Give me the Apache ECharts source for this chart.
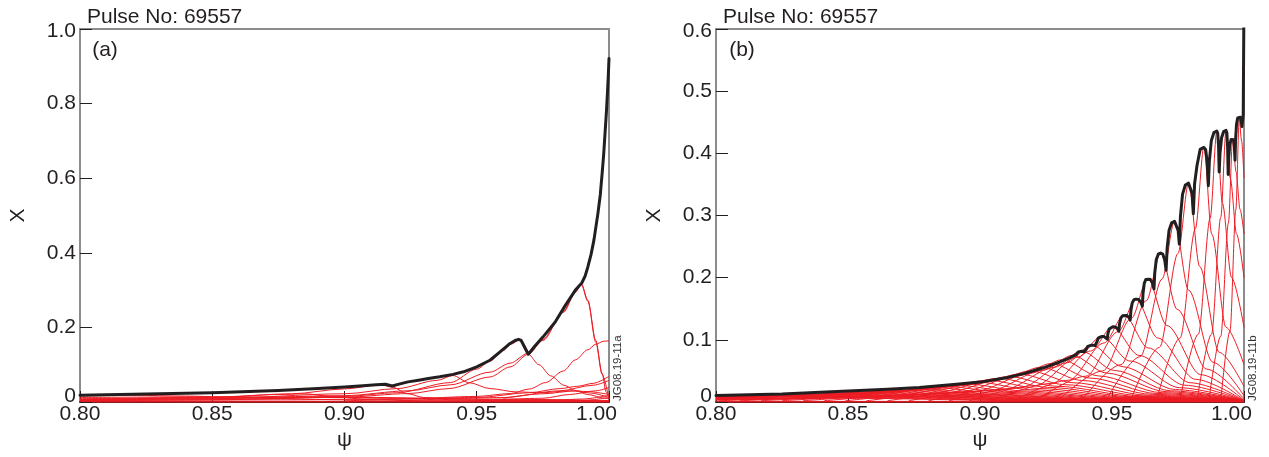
<!DOCTYPE html>
<html><head><meta charset="utf-8">
<script src="https://cdn.jsdelivr.net/npm/echarts@6/dist/echarts.min.js"></script>
<style>html,body{margin:0;padding:0;background:#fff}#c{width:1269px;height:457px}</style>
</head><body><div id="c"></div>
<script>
const FONT = '"Liberation Sans", Arial, Helvetica, sans-serif';
const pulseLabel = 'Pulse No: 69557';
const panelTags = ['(a)', '(b)'];
const figCodes = ['JG08.19-11a', 'JG08.19-11b'];
const xName = 'ψ', yName = 'X';
const xTicks = [0.80, 0.85, 0.90, 0.95, 1.00];
const yTicksA = [0, 0.2, 0.4, 0.6, 0.8, 1.0];
const yTicksB = [0, 0.1, 0.2, 0.3, 0.4, 0.5, 0.6];

// ---------- panel (a) ----------
const blackA = [[0.800,0.018],[0.825,0.0215],[0.850,0.025],[0.875,0.031],[0.890,0.036],[0.900,0.040],[0.907,0.0435],[0.912,0.0465],[0.9155,0.0475],[0.918,0.043],[0.921,0.0485],[0.924,0.054],[0.928,0.0585],[0.9317,0.063],[0.936,0.0675],[0.941,0.074],[0.945,0.081],[0.950,0.094],[0.955,0.112],[0.9596,0.139],[0.9626,0.157],[0.9645,0.165],[0.9658,0.168],[0.9668,0.165],[0.9695,0.128],[0.972,0.150],[0.975,0.174],[0.9796,0.214],[0.9835,0.259],[0.9873,0.300],[0.9897,0.319],[0.9910,0.338],[0.992,0.362],[0.9932,0.395],[0.9943,0.434],[0.9958,0.505],[0.9967,0.555],[0.9974,0.612],[0.998,0.665],[0.9985,0.720],[0.999,0.775],[0.9994,0.827],[0.9997,0.87],[1.0,0.921]];
const redA1 = [[0.80,0.005],[0.85,0.006],[0.90,0.013],[0.924,0.0225],[0.9395,0.036],[0.955,0.067],[0.9626,0.094],[0.9695,0.128],[0.975,0.165],[0.9827,0.24],[0.9875,0.295],[0.9895,0.318],[0.992,0.273],[0.995,0.165],[0.9974,0.077],[0.9989,0.027],[1.0,0.009]];
const redA2 = [[0.80,0.007],[0.85,0.009],[0.90,0.017],[0.924,0.03],[0.94,0.046],[0.955,0.08],[0.9626,0.104],[0.9695,0.131],[0.975,0.168],[0.9827,0.243],[0.9875,0.298],[0.9895,0.316],[0.992,0.27],[0.995,0.16],[0.9974,0.074],[1.0,0.008]];
const redA3 = [[0.80,0.003],[0.85,0.006],[0.90,0.015],[0.92,0.025],[0.94,0.052],[0.95,0.088],[0.955,0.11],[0.96,0.138],[0.963,0.155],[0.966,0.166],[0.9695,0.128],[0.9735,0.10],[0.978,0.07],[0.983,0.045],[0.9875,0.03],[0.992,0.02],[0.9985,0.01],[1.0,0.008]];
const redA4 = [[0.80,0.004],[0.878,0.006],[0.924,0.009],[0.95,0.015],[0.9626,0.0225],[0.97,0.035],[0.976,0.052],[0.9827,0.083],[0.9873,0.113],[0.992,0.14],[0.995,0.155],[0.998,0.163],[1.0,0.164]];
const redA5 = [[0.80,0.004],[0.85,0.009],[0.90,0.022],[0.92,0.036],[0.935,0.058],[0.941,0.071],[0.947,0.052],[0.955,0.036],[0.965,0.027],[0.975,0.025],[0.985,0.03],[0.992,0.028],[1.0,0.02]];
const redA6 = [[0.80,0.005],[0.85,0.012],[0.88,0.022],[0.90,0.035],[0.9135,0.046],[0.918,0.04],[0.924,0.022],[0.93,0.012],[0.94,0.006],[0.96,0.003],[1.0,0.001]];
const redA7 = [[0.80,0.006],[0.85,0.013],[0.875,0.02],[0.885,0.022],[0.895,0.015],[0.91,0.006],[0.93,0.003],[1.0,0.001]];
const redA8 = [[0.90,0.003],[0.95,0.012],[0.97,0.025],[0.9815,0.036],[0.988,0.042],[0.994,0.05],[1.0,0.069]];
const redA9 = [[0.92,0.003],[0.96,0.012],[0.9815,0.03],[0.994,0.045],[1.0,0.058]];
const redA10 = [[0.95,0.003],[0.975,0.01],[0.985,0.02],[0.995,0.03],[1.0,0.039]];
const redA11 = [[0.96,0.002],[0.98,0.005],[0.99,0.008],[1.0,0.018]];
const redA12 = [[0.97,0.001],[0.99,0.004],[1.0,0.012]];
const redA13 = [[0.80,0.012],[0.85,0.014],[0.90,0.013],[0.95,0.008],[1.0,0.004]];
const redA14 = [[0.80,0.009],[0.85,0.011],[0.90,0.012],[0.93,0.01],[0.96,0.006],[1.0,0.003]];
const redA15 = [[0.80,0.002],[0.90,0.002],[1.0,0.002]];
const redA16 = [[0.80,0.016],[0.82,0.018],[0.84,0.016],[0.86,0.012],[0.90,0.006],[1.0,0.002]];
const redA17 = [[0.96,0.01],[0.975,0.022],[0.9875,0.03],[0.993,0.024],[1.0,0.012]];
const redCurvesA = [redA1,redA2,redA3,redA4,redA5,redA6,redA7,redA8,redA9,redA10,redA11,redA12,redA13,redA14,redA15,redA16,redA17];

// ---------- panel (b) ----------
const blackB = [[0.800,0.0105],[0.825,0.0128],[0.850,0.0175],[0.865,0.0205],[0.877,0.0235],[0.890,0.028],[0.900,0.032],[0.910,0.039],[0.917,0.046],[0.924,0.055],[0.930,0.064],[0.934,0.071],[0.9365,0.0765],
[0.93674,0.07875],[0.9372,0.0806],[0.9378,0.08135],[0.9385,0.0815],[0.9391,0.08144],[0.93963,0.0811],[0.9400,0.0805],
[0.94028,0.08545],[0.94081,0.0895],[0.9415,0.09117],[0.9423,0.0915],[0.9430,0.09138],[0.94358,0.0907],[0.9440,0.0895],
[0.94426,0.0967],[0.94477,0.10262],[0.94543,0.10502],[0.9462,0.1055],[0.9470,0.10523],[0.9477,0.1037],[0.9482,0.101],
[0.94845,0.110],[0.94894,0.1174],[0.94957,0.1204],[0.9503,0.121],[0.95122,0.12058],[0.95203,0.1182],[0.9526,0.114],
[0.95285,0.12548],[0.95334,0.13491],[0.95397,0.13874],[0.9547,0.1395],[0.95558,0.13905],[0.95635,0.1365],[0.9569,0.132],
[0.95716,0.14708],[0.95767,0.15947],[0.95833,0.1645],[0.9591,0.1655],[0.96006,0.16481],[0.9609,0.1609],[0.9615,0.154],
[0.96174,0.17403],[0.9622,0.19049],[0.9628,0.19717],[0.9635,0.1985],[0.96446,0.19751],[0.9653,0.1919],[0.9659,0.182],
[0.9662,0.20788],[0.96678,0.22915],[0.96753,0.23778],[0.9684,0.2395],[0.96924,0.23785],[0.96998,0.2285],[0.9705,0.212],
[0.97088,0.24733],[0.97162,0.27637],[0.97258,0.28815],[0.9737,0.2905],[0.97442,0.28831],[0.97505,0.2759],[0.9755,0.254],
[0.97592,0.2981],[0.97673,0.33436],[0.97778,0.34906],[0.9790,0.352],[0.97972,0.34906],[0.98035,0.3349],[0.9808,0.303],
[0.98128,0.35093],[0.9822,0.38033],[0.9834,0.40631],[0.9848,0.4095],[0.98548,0.40581],[0.98608,0.3849],[0.9865,0.348],
[0.98688,0.3876],[0.98762,0.42016],[0.98858,0.43336],[0.9897,0.436],[0.99006,0.43204],[0.99038,0.4096],[0.9906,0.370],
[0.99091,0.40015],[0.99151,0.42494],[0.99229,0.43499],[0.9932,0.437],[0.99352,0.43274],[0.9938,0.4086],[0.9940,0.366],
[0.9942,0.3921],[0.9946,0.41356],[0.9951,0.42226],[0.9957,0.424],[0.99606,0.4219],[0.99638,0.41],[0.9966,0.389],
[0.99679,0.4205],[0.99716,0.4464],[0.9976,0.4569],[0.9982,0.459],[0.9986,0.45804],[0.99895,0.4534],[0.9992,0.443],
[0.9997,0.462],[1.0,0.65]];
const redB1 = [[0.9912,0.002],[0.9947,0.114],[0.9969,0.309],[0.9982,0.455],[0.9991,0.42],[1.0,0.36]];
const redB2 = [[0.9867,0.002],[0.9912,0.106],[0.9941,0.288],[0.9957,0.424],[0.997,0.37],[0.9985,0.31],[1.0,0.27]];
const redB3 = [[0.9822,0.002],[0.9877,0.109],[0.9912,0.297],[0.9932,0.437],[0.9948,0.36],[0.9972,0.27],[1.0,0.20]];
const redB4 = [[0.9757,0.002],[0.9827,0.109],[0.9872,0.296],[0.9897,0.436],[0.9918,0.32],[0.9953,0.20],[1.0,0.12]];
const redB5 = [[0.9668,0.002],[0.9758,0.103],[0.9816,0.279],[0.9848,0.41],[0.9878,0.27],[0.9932,0.12],[1.0,0.06]];
const redB6 = [[0.957,0.002],[0.968,0.088],[0.975,0.239],[0.979,0.352],[0.9832,0.218],[0.9906,0.08],[1.0,0.025]];
const redB7 = [[0.9477,0.002],[0.9607,0.073],[0.969,0.198],[0.9737,0.291],[0.979,0.18],[0.9882,0.064],[1.0,0.01]];
const redB8 = [[0.9384,0.002],[0.9534,0.06],[0.963,0.163],[0.9684,0.24],[0.9747,0.149],[0.9858,0.053],[1.0,0.005]];
const redB9 = [[0.9295,0.002],[0.9465,0.05],[0.9574,0.135],[0.9635,0.199],[0.9708,0.123],[0.9836,0.044],[1.0,0.003]];
const redB10 = [[0.9211,0.002],[0.9401,0.0415],[0.9523,0.113],[0.9591,0.166],[0.9673,0.103],[0.9816,0.0365],[1.0,0.002]];
const redB11 = [[0.9126,0.002],[0.9336,0.035],[0.947,0.095],[0.9546,0.14],[0.9637,0.087],[0.9796,0.031],[1.0,0.002]];
const redB12 = [[0.9042,0.002],[0.9272,0.03],[0.9419,0.082],[0.9502,0.121],[0.9602,0.075],[0.9776,0.027],[1.0,0.002]];
const redB13 = [[0.896,0.002],[0.921,0.0265],[0.937,0.072],[0.946,0.106],[0.9568,0.066],[0.9757,0.023],[1.0,0.002]];
const redB14 = [[0.8883,0.002],[0.9153,0.023],[0.9326,0.0626],[0.9423,0.092],[0.9538,0.057],[0.974,0.02],[1.0,0.002]];
const redB15 = [[0.8805,0.002],[0.9095,0.0205],[0.9281,0.0558],[0.9385,0.082],[0.9508,0.0508],[0.9723,0.018],[1.0,0.002]];
const redB16 = [[0.873,0.002],[0.904,0.0188],[0.9238,0.051],[0.935,0.075],[0.948,0.0465],[0.9708,0.0165],[1.0,0.002]];
const redB17 = [[0.865,0.002],[0.898,0.017],[0.9191,0.0462],[0.931,0.068],[0.9448,0.042],[0.969,0.015],[1.0,0.002]];
const redB18 = [[0.857,0.002],[0.892,0.0155],[0.9144,0.042],[0.927,0.062],[0.9416,0.0385],[0.9672,0.0136],[1.0,0.002]];
const redB19 = [[0.849,0.002],[0.886,0.014],[0.9097,0.038],[0.923,0.056],[0.9384,0.0347],[0.9654,0.0123],[1.0,0.002]];
const redB20 = [[0.841,0.002],[0.88,0.0125],[0.905,0.034],[0.919,0.05],[0.9352,0.031],[0.9636,0.011],[1.0,0.002]];
const redB21 = [[0.833,0.002],[0.874,0.0113],[0.9002,0.0306],[0.915,0.045],[0.932,0.0279],[0.9618,0.0099],[1.0,0.002]];
const redB22 = [[0.825,0.002],[0.868,0.0103],[0.8955,0.0279],[0.911,0.041],[0.9288,0.0254],[0.96,0.009],[1.0,0.002]];
const redB23 = [[0.817,0.002],[0.862,0.0095],[0.8908,0.0258],[0.907,0.038],[0.9256,0.0236],[0.9582,0.0084],[1.0,0.002]];
const redB24 = [[0.809,0.002],[0.856,0.0088],[0.8861,0.0238],[0.903,0.035],[0.9224,0.0217],[0.9564,0.0077],[1.0,0.002]];
const redB25 = [[0.801,0.002],[0.85,0.008],[0.8814,0.0218],[0.899,0.032],[0.9192,0.0198],[0.9546,0.007],[1.0,0.002]];
const redB26 = [[0.80,0.003],[0.845,0.0073],[0.877,0.0197],[0.895,0.029],[0.916,0.018],[0.9528,0.0064],[1.0,0.002]];
const redB27 = [[0.80,0.004],[0.841,0.0068],[0.873,0.0184],[0.891,0.027],[0.9128,0.0167],[0.951,0.006],[1.0,0.002]];
const redB28 = [[0.80,0.004],[0.837,0.0063],[0.869,0.017],[0.887,0.025],[0.9096,0.0155],[0.949,0.0055],[1.0,0.002]];
const redB29 = [[0.80,0.0045],[0.833,0.0058],[0.865,0.0156],[0.883,0.023],[0.9064,0.0143],[0.947,0.005],[1.0,0.002]];
const redB30 = [[0.80,0.0045],[0.829,0.0053],[0.861,0.0143],[0.879,0.021],[0.9032,0.013],[0.9455,0.0046],[1.0,0.0015]];
const redB31 = [[0.80,0.005],[0.84,0.009],[0.857,0.0136],[0.875,0.02],[0.90,0.0124],[0.944,0.0044],[1.0,0.0015]];
const redB32 = [[0.80,0.0055],[0.835,0.009],[0.852,0.0129],[0.87,0.019],[0.896,0.0118],[0.941,0.0042],[1.0,0.0015]];
const redB33 = [[0.80,0.006],[0.83,0.0085],[0.847,0.0122],[0.865,0.018],[0.892,0.0112],[0.939,0.004],[1.0,0.0015]];
const redB34 = [[0.80,0.0065],[0.825,0.0085],[0.842,0.0116],[0.86,0.017],[0.888,0.0105],[0.937,0.0037],[1.0,0.0015]];
const redB35 = [[0.80,0.007],[0.82,0.0085],[0.837,0.0109],[0.855,0.016],[0.884,0.0099],[0.935,0.0035],[1.0,0.0015]];
const redB36 = [[0.80,0.0075],[0.832,0.0102],[0.85,0.015],[0.88,0.0093],[0.933,0.0033],[1.0,0.0015]];
const redB37 = [[0.80,0.008],[0.827,0.0095],[0.845,0.014],[0.876,0.0087],[0.93,0.0031],[1.0,0.0012]];
const redB38 = [[0.80,0.0075],[0.822,0.0092],[0.84,0.013],[0.872,0.0081],[0.928,0.0029],[1.0,0.0012]];
const redB39 = [[0.80,0.0085],[0.83,0.012],[0.864,0.0075],[0.924,0.0027],[1.0,0.0012]];
const redB40 = [[0.80,0.0095],[0.82,0.011],[0.856,0.0068],[0.92,0.0024],[1.0,0.001]];
const redB41 = [[0.80,0.0098],[0.81,0.01],[0.848,0.0062],[0.915,0.0022],[1.0,0.001]];
const redB42 = [[0.80,0.001],[0.90,0.001],[1.0,0.001]];
const redCurvesB = [redB1,redB2,redB3,redB4,redB5,redB6,redB7,redB8,redB9,redB10,redB11,redB12,redB13,redB14,redB15,redB16,redB17,redB18,redB19,redB20,redB21,redB22,redB23,redB24,redB25,redB26,redB27,redB28,redB29,redB30,redB31,redB32,redB33,redB34,redB35,redB36,redB37,redB38,redB39,redB40,redB41,redB42];

// ---------- styling ----------
const RED = '#ec1c24', BLACK = '#231f20', FRAME = '#8c8c8c', TXT = '#231f20';
const LABEL_FS = 21;

function xAxisCfg(gi) {
  return {
    gridIndex: gi, type: 'value',
    min: xTicks[0], max: xTicks[xTicks.length - 1], interval: xTicks[1] - xTicks[0],
    name: xName, nameLocation: 'middle', nameGap: 28,
    nameTextStyle: { fontFamily: FONT, fontSize: 21, color: TXT },
    axisLine: { show: true, onZero: false, lineStyle: { color: '#8e1b1f', width: 2 } },
    axisTick: { show: true, inside: true, length: 11, lineStyle: { color: TXT, width: 1 } },
    splitLine: { show: false },
    axisLabel: {
      margin: 2, fontFamily: FONT, fontSize: LABEL_FS, color: TXT,
      formatter: v => v >= xTicks[xTicks.length - 1] - 1e-6 ? '{e|' + v.toFixed(2) + '}' : v.toFixed(2),
      rich: { e: { fontFamily: FONT, fontSize: LABEL_FS, color: TXT, padding: [0, 25, 0, 0] } }
    }
  };
}
function yAxisCfg(gi, ticks) {
  const mx = ticks[ticks.length - 1];
  return {
    gridIndex: gi, type: 'value', min: 0, max: mx, interval: ticks[1] - ticks[0],
    name: yName, nameLocation: 'middle', nameGap: 51, nameRotate: 90,
    nameTextStyle: { fontFamily: FONT, fontSize: 21, color: TXT },
    axisLine: { show: true, onZero: false, lineStyle: { color: FRAME, width: 2 } },
    axisTick: { show: true, inside: true, length: 12, lineStyle: { color: TXT, width: 1 } },
    splitLine: { show: false },
    axisLabel: {
      margin: 4, fontFamily: FONT, fontSize: LABEL_FS, color: TXT,
      formatter: v => {
        if (Math.abs(v) < 1e-9) return '{z|0}';
        if (Math.abs(v - mx) < 1e-9) return '{t|' + v.toFixed(1) + '}';
        return v.toFixed(1);
      },
      rich: {
        z: { fontFamily: FONT, fontSize: LABEL_FS, color: TXT, padding: [0, 0, 12, 0] },
        t: { fontFamily: FONT, fontSize: LABEL_FS, color: TXT, padding: [4, 0, 0, 0] }
      }
    }
  };
}

const series = [];
function addRed(d, gi) {
  series.push({ type: 'line', xAxisIndex: gi, yAxisIndex: gi, data: d, showSymbol: false, smooth: 0.3, smoothMonotone: 'x', lineStyle: { color: RED, width: 1 }, silent: true, z: 2 });
}
function addBlack(d, gi) {
  series.push({ type: 'line', xAxisIndex: gi, yAxisIndex: gi, data: d, showSymbol: false, smooth: false, lineStyle: { color: BLACK, width: 3, cap: 'round', join: 'round' }, silent: true, z: 3 });
}
redCurvesA.forEach(d => addRed(d, 0));
addBlack(blackA, 0);
redCurvesB.forEach(d => addRed(d, 1));
addBlack(blackB, 1);

function txt(x, y, s, fs, align, valign, rot, color) {
  return { type: 'text', x: x, y: y, rotation: rot || 0, silent: true, z: 10,
    style: { text: s, fill: color || TXT, fontFamily: FONT, fontSize: fs,
      align: align, textAlign: align, verticalAlign: valign, textVerticalAlign: valign } };
}

const chart = echarts.init(document.getElementById('c'), null, { renderer: 'canvas' });
chart.setOption({
  animation: false,
  backgroundColor: '#fff',
  grid: [
    { left: 80, top: 29, width: 529, height: 373, show: true, borderColor: FRAME, borderWidth: 2, backgroundColor: 'transparent', containLabel: false, outerBoundsMode: 'none' },
    { left: 716, top: 29, width: 528, height: 373, show: true, borderColor: FRAME, borderWidth: 2, backgroundColor: 'transparent', containLabel: false, outerBoundsMode: 'none' }
  ],
  xAxis: [xAxisCfg(0), xAxisCfg(1)],
  yAxis: [yAxisCfg(0, yTicksA), yAxisCfg(1, yTicksB)],
  series: series,
  graphic: [
    txt(87, 17, pulseLabel, 21, 'left', 'middle'),
    txt(723, 17, pulseLabel, 21, 'left', 'middle'),
    txt(105, 50, panelTags[0], 21, 'center', 'middle'),
    txt(742, 50, panelTags[1], 21, 'center', 'middle'),
    txt(618, 401, figCodes[0], 11.5, 'left', 'middle', Math.PI / 2, '#333'),
    txt(1253, 401, figCodes[1], 11.5, 'left', 'middle', Math.PI / 2, '#333')
  ]
});
</script></body></html>
